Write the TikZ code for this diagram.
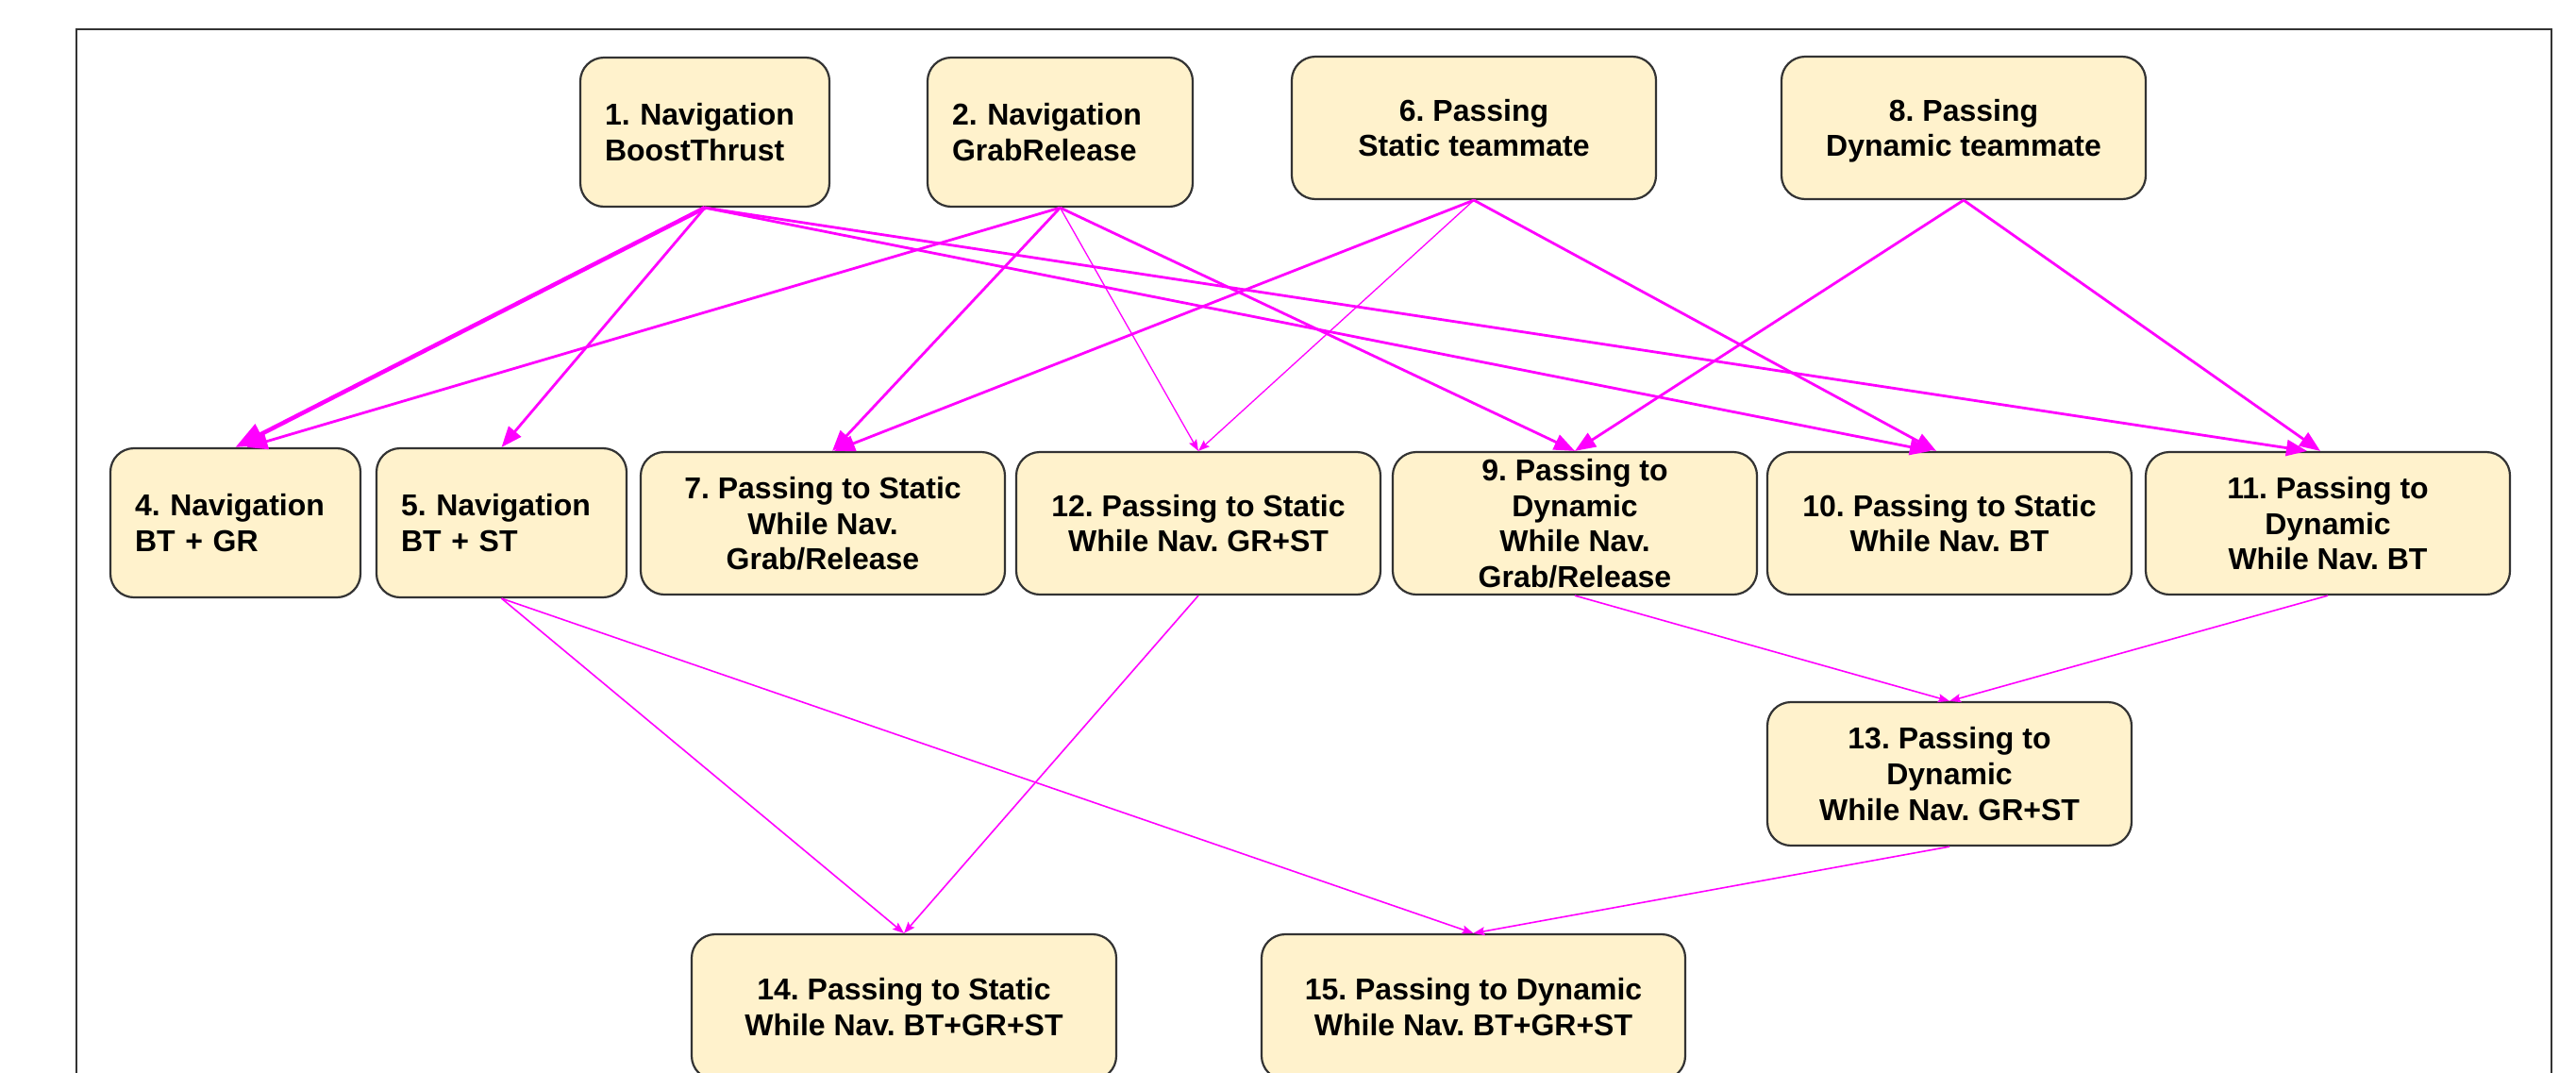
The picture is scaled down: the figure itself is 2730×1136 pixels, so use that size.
\documentclass[tikz,border=0pt]{standalone}
\usepackage{fontspec}
\setmainfont{Liberation Sans}
\usetikzlibrary{arrows.meta}
\definecolor{boxfill}{HTML}{FFF2CC}
\definecolor{boxline}{HTML}{333333}
\definecolor{link}{HTML}{FF00FF}
\frenchspacing
% fixed line box so every label is centred the same way
\newcommand\lbx{\vrule height 30pt depth 7pt width 0pt}
\begin{document}
\begin{tikzpicture}[x=1pt,y=-1pt,
  statebox/.style={draw=boxline, fill=boxfill, line width=2.2pt, rounded corners=25pt,
    inner xsep=26pt, inner ysep=0pt, align=center,
    font=\frenchspacing\bfseries\fontsize{32}{37.7}\selectfont},
  leftbox/.style={statebox, align=left},
  flow/.style={draw=link, line width=2.8pt, -{Triangle[length=22pt,width=17pt]}},
  heavyflow/.style={draw=link, line width=4.5pt, -{Triangle[length=30pt,width=24pt]}},
  fineflow/.style={draw=link, line width=1.3pt, -{Stealth[length=12pt,width=9pt,inset=2pt]}},
  lowflow/.style={fineflow, line width=1.6pt},
]
\useasboundingbox (0,0) rectangle (2730,1136);
\begin{scope}
\clip (0,0) rectangle (2730,1136);
% outer frame
\draw[boxline, line width=2.2pt] (81,31) rectangle (2704,1220);

% top row
\node[leftbox, text width=212pt, minimum height=158pt] (n1) at (747,140) {\lbx 1. Navigation\\BoostThrust\lbx};
\node[leftbox, text width=229pt, minimum height=158pt] (n2) at (1123.5,140) {\lbx 2. Navigation\\GrabRelease\lbx};
\node[statebox, minimum width=386pt, minimum height=151pt] (n6) at (1562,135.5) {\lbx 6. Passing\\Static teammate\lbx};
\node[statebox, minimum width=386pt, minimum height=151pt] (n8) at (2081,135.5) {\lbx 8. Passing\\Dynamic teammate\lbx};

% middle row
\node[leftbox, text width=213pt, minimum height=158pt] (n4) at (249.5,554) {\lbx 4. Navigation\\BT + GR\lbx};
\node[leftbox, text width=213pt, minimum height=158pt] (n5) at (531.5,554) {\lbx 5. Navigation\\BT + ST\lbx};
\node[statebox, minimum width=386pt, minimum height=151pt] (n7) at (872,554.5) {\lbx 7. Passing to Static\\While Nav.\\Grab/Release\lbx};
\node[statebox, minimum width=386pt, minimum height=151pt] (n12) at (1270,554.5) {\lbx 12. Passing to Static\\While Nav. GR+ST\lbx};
\node[statebox, minimum width=386pt, minimum height=151pt] (n9) at (1669,554.5) {\lbx 9. Passing to\\Dynamic\\While Nav.\\Grab/Release\lbx};
\node[statebox, minimum width=386pt, minimum height=151pt] (n10) at (2066,554.5) {\lbx 10. Passing to Static\\While Nav. BT\lbx};
\node[statebox, minimum width=386pt, minimum height=151pt] (n11) at (2467,554.5) {\lbx 11. Passing to\\Dynamic\\While Nav. BT\lbx};

% lower rows
\node[statebox, minimum width=386pt, minimum height=152pt] (n13) at (2066,820) {\lbx 13. Passing to\\Dynamic\\While Nav. GR+ST\lbx};
\node[statebox, minimum width=450pt, minimum height=154pt] (n14) at (958,1067) {\lbx 14. Passing to Static\\While Nav. BT+GR+ST\lbx};
\node[statebox, minimum width=449pt, minimum height=154pt] (n15) at (1561.5,1067) {\lbx 15. Passing to Dynamic\\While Nav. BT+GR+ST\lbx};

% links from the navigation skills
\draw[heavyflow] (n1.south) -- (n4.north);
\draw[flow] (n1.south) -- (n5.north);
\draw[flow] (n1.south) -- ([xshift=-20pt]n10.north);
\draw[flow] (n1.south) -- ([xshift=-22pt]n11.north);
\draw[flow] (n2.south) -- ([xshift=12pt]n4.north);
\draw[flow] (n2.south) -- ([xshift=10pt]n7.north);
\draw[fineflow] (n2.south) -- (n12.north);
\draw[flow] (n2.south) -- (n9.north);

% links from the passing skills
\draw[flow] (n6.south) -- ([xshift=12pt]n7.north);
\draw[fineflow] (n6.south) -- (n12.north);
\draw[flow] (n6.south) -- ([xshift=-14pt]n10.north);
\draw[flow] (n8.south) -- (n9.north);
\draw[flow] (n8.south) -- ([xshift=-8pt]n11.north);

% combined skills
\draw[lowflow] (n5.south) -- (n14.north);
\draw[lowflow] (n12.south) -- (n14.north);
\draw[lowflow] (n5.south) -- (n15.north);
\draw[lowflow] (n13.south) -- (n15.north);
\draw[lowflow] (n9.south) -- (n13.north);
\draw[lowflow] (n11.south) -- (n13.north);
\end{scope}
\end{tikzpicture}
\end{document}
